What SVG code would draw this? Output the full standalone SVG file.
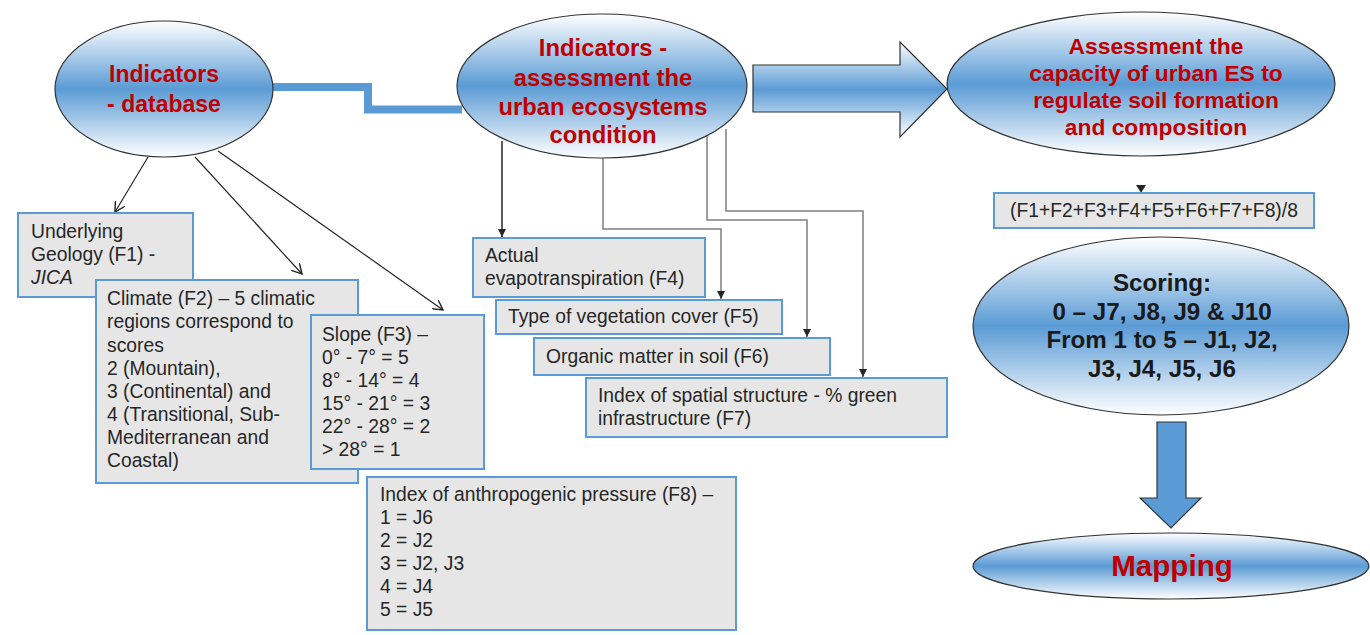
<svg xmlns="http://www.w3.org/2000/svg" width="1370" height="635" viewBox="0 0 1370 635">
  <defs>
    <linearGradient id="blueBand" x1="0" y1="0" x2="0" y2="1">
      <stop offset="0" stop-color="#ffffff"/>
      <stop offset="0.5" stop-color="#5b9bd5"/>
      <stop offset="1" stop-color="#ffffff"/>
    </linearGradient>
    <marker id="tri" viewBox="0 0 10 10" refX="10" refY="5" markerWidth="8" markerHeight="8" orient="auto" markerUnits="userSpaceOnUse">
      <path d="M0,0 L10,5 L0,10 Z" fill="#262626"/>
    </marker>
    <marker id="vee" viewBox="0 0 10 10" refX="9" refY="5" markerWidth="11" markerHeight="11" orient="auto" markerUnits="userSpaceOnUse">
      <path d="M0,0 L9,5 L0,10" fill="none" stroke="#262626" stroke-width="1.3"/>
    </marker>
    <style>
      .oval { fill: url(#blueBand); stroke: #333333; stroke-width: 1.2; }
      .box { fill: #e6e6e6; stroke: #5b9bd5; stroke-width: 2; }
      .boxtxt { font-family: "Liberation Sans", Arial, sans-serif; font-size: 19.3px; fill: #262626; }
      .title { font-family: "Liberation Sans", Arial, sans-serif; font-weight: bold; fill: #c00000; text-anchor: middle; }
      .dark { font-family: "Liberation Sans", Arial, sans-serif; font-weight: bold; fill: #1a1a1a; text-anchor: middle; }
      .diag { stroke: #262626; stroke-width: 1.2; fill: none; marker-end: url(#vee); }
      .elbow { stroke: #7f7f7f; stroke-width: 1.5; fill: none; marker-end: url(#tri); }
      .elbowDark { stroke: #262626; stroke-width: 1.5; fill: none; marker-end: url(#tri); }
    </style>
  </defs>

  <!-- connectors -->
  <g id="connectors">
    <polyline points="272,87 368,87 368,109.5 462,109.5" fill="none" stroke="#5b9bd5" stroke-width="8"/>
    <line class="diag" x1="148" y1="157" x2="115" y2="212"/>
    <line class="diag" x1="195" y1="157" x2="302" y2="274"/>
    <line class="diag" x1="218" y1="151" x2="443" y2="310"/>
    <polyline class="elbowDark" points="502,141 502,237"/>
    <polyline class="elbow" points="603,158 603,229 721,229 721,299"/>
    <polyline class="elbow" points="707,136 707,220 807,220 807,337"/>
    <polyline class="elbow" points="726,129 726,211 863,211 863,377"/>
    <path d="M1136,185 L1146,185 L1141,193 Z" fill="#262626"/>
  </g>

  <!-- node: indicators database -->
  <g id="node-database">
    <ellipse class="oval" cx="164" cy="89" rx="109" ry="68"/>
    <text class="title" font-size="23" x="164" y="82">Indicators</text>
    <text class="title" font-size="23" x="164" y="112">- database</text>
  </g>

  <!-- node: ecosystem condition indicators -->
  <g id="node-condition">
    <ellipse class="oval" cx="602" cy="86" rx="145" ry="72"/>
    <text class="title" font-size="23.8" x="603" y="56">Indicators  -</text>
    <text class="title" font-size="23.8" x="603" y="86">assessment the</text>
    <text class="title" font-size="23.8" x="603" y="115">urban ecosystems</text>
    <text class="title" font-size="23.8" x="603" y="143">condition</text>
  </g>

  <!-- block arrow to capacity assessment -->
  <g id="node-bigarrow">
    <path d="M753,65 H900 V42 L947,89 L900,137 V112 H753 Z" fill="url(#blueBand)" stroke="#333333" stroke-width="1.2"/>
  </g>

  <!-- node: capacity assessment -->
  <g id="node-capacity">
    <ellipse class="oval" cx="1141" cy="84" rx="194" ry="72"/>
    <text class="title" font-size="22.8" x="1156" y="54">Assessment the</text>
    <text class="title" font-size="22.8" x="1156" y="81">capacity of urban ES to</text>
    <text class="title" font-size="22.8" x="1156" y="108">regulate soil formation</text>
    <text class="title" font-size="22.8" x="1156" y="135">and composition</text>
  </g>

  <!-- node: formula -->
  <g id="node-formula">
    <rect class="box" x="994" y="193" width="320" height="35"/>
    <text class="boxtxt" x="1154" y="217" text-anchor="middle">(F1+F2+F3+F4+F5+F6+F7+F8)/8</text>
  </g>

  <!-- node: scoring -->
  <g id="node-scoring">
    <ellipse class="oval" cx="1161" cy="326" rx="188" ry="89"/>
    <text class="dark" font-size="24.2" x="1162" y="291">Scoring:</text>
    <text class="dark" font-size="24.2" x="1162" y="320">0 – J7, J8, J9 &amp; J10</text>
    <text class="dark" font-size="24.2" x="1162" y="348">From 1 to 5 – J1, J2,</text>
    <text class="dark" font-size="24.2" x="1162" y="377">J3, J4, J5, J6</text>
  </g>

  <!-- down arrow to mapping -->
  <g id="node-downarrow">
    <path d="M1157,422 H1186 V498 H1201 L1171,528 L1140,498 H1157 Z" fill="#5b9bd5" stroke="#333333" stroke-width="1.2"/>
  </g>

  <!-- node: mapping -->
  <g id="node-mapping">
    <ellipse class="oval" cx="1171" cy="566" rx="198" ry="33"/>
    <text class="title" font-size="29.6" x="1172" y="576">Mapping</text>
  </g>

  <!-- node: F1 -->
  <g id="node-f1">
    <rect class="box" x="18" y="213" width="175" height="84"/>
    <text class="boxtxt" x="31" y="238">Underlying</text>
    <text class="boxtxt" x="31" y="261">Geology (F1) -</text>
    <text class="boxtxt" x="31" y="284" font-style="italic">JICA</text>
  </g>

  <!-- node: F2 -->
  <g id="node-f2">
    <rect class="box" x="96" y="280" width="262" height="203"/>
    <text class="boxtxt" x="107" y="305">Climate (F2) – 5 climatic</text>
    <text class="boxtxt" x="107" y="328">regions correspond to</text>
    <text class="boxtxt" x="107" y="352">scores</text>
    <text class="boxtxt" x="107" y="375">2 (Mountain),</text>
    <text class="boxtxt" x="107" y="398">3 (Continental) and</text>
    <text class="boxtxt" x="107" y="421">4 (Transitional, Sub-</text>
    <text class="boxtxt" x="107" y="444">Mediterranean and</text>
    <text class="boxtxt" x="107" y="467">Coastal)</text>
  </g>

  <!-- node: F3 -->
  <g id="node-f3">
    <rect class="box" x="311" y="315" width="173" height="154"/>
    <text class="boxtxt" x="322" y="341">Slope (F3) –</text>
    <text class="boxtxt" x="322" y="364">0° - 7° = 5</text>
    <text class="boxtxt" x="322" y="387">8° - 14° = 4</text>
    <text class="boxtxt" x="322" y="410">15° - 21° = 3</text>
    <text class="boxtxt" x="322" y="433">22° - 28° = 2</text>
    <text class="boxtxt" x="322" y="456">&gt; 28° = 1</text>
  </g>

  <!-- node: F4 -->
  <g id="node-f4">
    <rect class="box" x="473" y="238" width="232" height="59"/>
    <text class="boxtxt" x="485" y="262">Actual</text>
    <text class="boxtxt" x="485" y="285">evapotranspiration (F4)</text>
  </g>

  <!-- node: F5 -->
  <g id="node-f5">
    <rect class="box" x="496" y="300" width="286" height="34"/>
    <text class="boxtxt" x="508" y="323">Type of vegetation cover (F5)</text>
  </g>

  <!-- node: F6 -->
  <g id="node-f6">
    <rect class="box" x="534" y="338" width="296" height="37"/>
    <text class="boxtxt" x="546" y="363">Organic matter in soil (F6)</text>
  </g>

  <!-- node: F7 -->
  <g id="node-f7">
    <rect class="box" x="586" y="378" width="361" height="59"/>
    <text class="boxtxt" x="598" y="402">Index of spatial structure - % green</text>
    <text class="boxtxt" x="598" y="425">infrastructure (F7)</text>
  </g>

  <!-- node: F8 -->
  <g id="node-f8">
    <rect class="box" x="367" y="477" width="369" height="153"/>
    <text class="boxtxt" x="380" y="501">Index of anthropogenic pressure (F8) –</text>
    <text class="boxtxt" x="380" y="524">1 = J6</text>
    <text class="boxtxt" x="380" y="547">2 = J2</text>
    <text class="boxtxt" x="380" y="570">3 = J2, J3</text>
    <text class="boxtxt" x="380" y="593">4 = J4</text>
    <text class="boxtxt" x="380" y="616">5 = J5</text>
  </g>
</svg>
